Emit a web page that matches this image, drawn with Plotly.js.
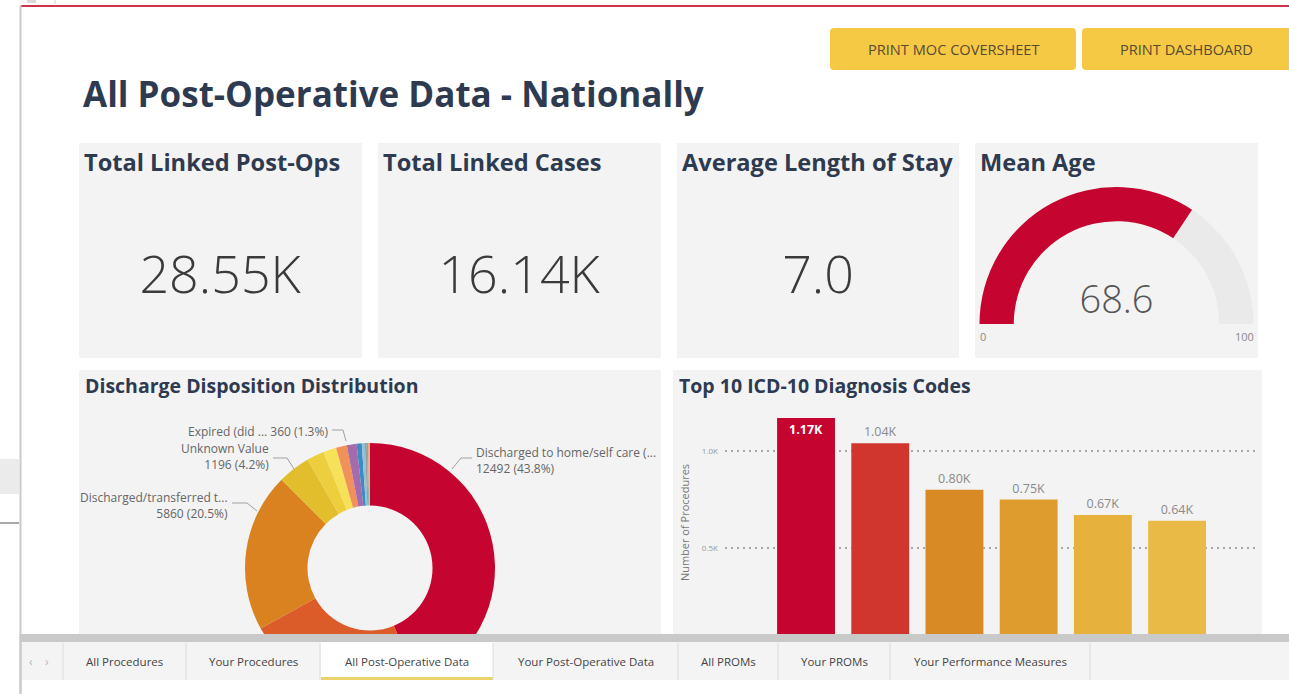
<!DOCTYPE html>
<html>
<head>
<meta charset="utf-8">
<script src="https://cdn.plot.ly/plotly-3.0.1.min.js"></script>
<style>
  html, body { margin: 0; padding: 0; background: #ffffff; }
  #chart { width: 1289px; height: 694px; }
</style>
</head>
<body>
<div id="chart"></div>
<script>
// ---------------- DATA ----------------
const pageTitle = "All Post-Operative Data - Nationally";
const buttonLabels = ["PRINT MOC COVERSHEET", "PRINT DASHBOARD"];

const kpiTitles = ["Total Linked Post-Ops", "Total Linked Cases", "Average Length of Stay"];
const kpiValues = [28.55, 16.14, 7.0];
const kpiSuffixes = ["K", "K", ""];
const kpiFormats = [".2f", ".2f", ".1f"];

const gaugeTitle = "Mean Age";
const gaugeValue = 68.6;
const gaugeRange = [0, 100];

const donutTitle = "Discharge Disposition Distribution";
const dispositionLabels = [
  "Discharged to home/self care (...",
  "Discharged/transferred to home health",
  "Discharged/transferred t...",
  "Unknown Value",
  "Discharged/transferred to inpatient rehab",
  "Discharged/transferred to another hospital",
  "Left against medical advice",
  "Expired (did ...",
  "Discharged/transferred to long term care",
  "Hospice - home",
  "Hospice - medical facility",
  "Discharged/transferred to psychiatric hospital",
  "Other",
  "Still a patient"
];
const dispositionValues = [12492, 6620, 5860, 1196, 650, 480, 400, 360, 190, 110, 70, 50, 40, 30];
const dispositionColors = ["#C5052F", "#DB5B29", "#D9821F", "#E2BD2C", "#EDCF3E", "#F6E158",
  "#F2905A", "#A56BAD", "#3E8BC3", "#8CC3D6", "#9C9C9C", "#6BB5A5", "#E9A07C", "#B0B0B0"];

const barTitle = "Top 10 ICD-10 Diagnosis Codes";
const diagnosisCodes = ["Code 1", "Code 2", "Code 3", "Code 4", "Code 5", "Code 6"];
const procedureCounts = [1170, 1040, 800, 750, 670, 640];
const barColors = ["#C5052F", "#D0352E", "#D88A24", "#DE9B2E", "#E6B23C", "#E9BA45"];
const yTickVals = [500, 1000];
const yTickText = ["0.5K", "1.0K"];
const yAxisTitle = "Number of Procedures";

const tabLabels = ["All Procedures", "Your Procedures", "All Post-Operative Data",
  "Your Post-Operative Data", "All PROMs", "Your PROMs", "Your Performance Measures"];
const activeTab = 2;

// ---------------- LAYOUT HELPERS ----------------
const W = 1289, H = 694;
const px = x => x / W;
const py = y => 1 - y / H;
const FONT = '"Open Sans", "Noto Sans", sans-serif';
const HEAD = "#2E3A50";

const shapes = [];
const annotations = [];
function rect(x0, y0, x1, y1, color, layer) {
  shapes.push({type: "rect", xref: "paper", yref: "paper", x0: px(x0), x1: px(x1), y0: py(y1), y1: py(y0),
    fillcolor: color, line: {width: 0}, layer: layer || "below"});
}
function roundRect(x0, y0, x1, y1, r, color) {
  const X = v => px(v).toFixed(5), Y = v => py(v).toFixed(5);
  const p = `M ${X(x0 + r)},${Y(y0)} L ${X(x1 - r)},${Y(y0)} Q ${X(x1)},${Y(y0)} ${X(x1)},${Y(y0 + r)} ` +
            `L ${X(x1)},${Y(y1 - r)} Q ${X(x1)},${Y(y1)} ${X(x1 - r)},${Y(y1)} L ${X(x0 + r)},${Y(y1)} ` +
            `Q ${X(x0)},${Y(y1)} ${X(x0)},${Y(y1 - r)} L ${X(x0)},${Y(y0 + r)} Q ${X(x0)},${Y(y0)} ${X(x0 + r)},${Y(y0)} Z`;
  shapes.push({type: "path", xref: "paper", yref: "paper", path: p, fillcolor: color, line: {width: 0}, layer: "below"});
}
function line(pts, color, width, layer) {
  const p = pts.map((q, i) => (i ? "L " : "M ") + px(q[0]).toFixed(5) + "," + py(q[1]).toFixed(5)).join(" ");
  shapes.push({type: "path", xref: "paper", yref: "paper", path: p, line: {color: color, width: width || 1}, layer: layer || "below"});
}
function text(x, y, t, opts) {
  opts = opts || {};
  annotations.push({xref: "paper", yref: "paper", x: px(x), y: py(y), text: t, showarrow: false,
    xanchor: opts.xanchor || "left", yanchor: opts.yanchor || "middle", align: opts.align || "left",
    textangle: opts.angle || 0,
    font: {family: opts.family || FONT, size: opts.size || 12, color: opts.color || "#444", weight: opts.weight || "normal"}});
}

// ---------------- PAGE CHROME ----------------
rect(27, 0, 36, 3, "#DADADA");
line([[55, 0], [55, 4]], "#CFCFCF", 1);
line([[20, 6], [1289, 6]], "#CE3348", 2);
line([[20.5, 5], [20.5, 694]], "#C9C9C9", 2);
rect(0, 459, 19, 494, "#EBEBEB");
line([[0, 523], [19, 523]], "#A9A9A9", 2);

// buttons
roundRect(830, 28, 1076, 70, 4, "#F6C944");
roundRect(1082, 28, 1294, 70, 4, "#F6C944");
text(954, 49, buttonLabels[0], {xanchor: "center", size: 14.6, color: "#564B33"});
text(1186, 49, buttonLabels[1], {xanchor: "center", size: 14.6, color: "#564B33"});

// page title
text(81, 93, pageTitle, {size: 35, color: HEAD, weight: "bold"});

// cards
const cardX = [[79, 362], [378, 661], [677, 959], [975, 1258]];
cardX.forEach(c => rect(c[0], 143, c[1], 358, "#F3F3F3"));
kpiTitles.concat([gaugeTitle]).forEach((t, i) => text(cardX[i][0] + 3, 162, t, {size: 23.6, color: HEAD, weight: "bold"}));

// lower panels
rect(79, 370, 661, 640, "#F3F3F3");
rect(673, 370, 1262, 640, "#F3F3F3");
text(83, 385, donutTitle, {size: 19.5, color: HEAD, weight: "bold"});
text(677, 385, barTitle, {size: 19.5, color: HEAD, weight: "bold"});

// gauge end labels
text(983, 336, String(gaugeRange[0]), {xanchor: "center", size: 11, color: "#8A8A8A"});
text(1244, 336, String(gaugeRange[1]), {xanchor: "center", size: 11, color: "#8A8A8A"});

// ---------------- DONUT LABELS ----------------
const total = dispositionValues.reduce((a, b) => a + b, 0);
const pct = i => (dispositionValues[i] / total * 100).toFixed(1) + "%";
const LBL = "#666";
text(474, 460, dispositionLabels[0] + "<br>" + dispositionValues[0] + " (" + pct(0) + ")", {size: 12, color: LBL});
line([[472, 458], [461, 458], [452, 469]], "#A0A0A0", 1);
text(230, 505, dispositionLabels[2] + "<br>" + dispositionValues[2] + " (" + pct(2) + ")", {size: 12, color: LBL, xanchor: "right", align: "right"});
line([[232, 503], [247, 503], [257, 511]], "#A0A0A0", 1);
text(271, 456, dispositionLabels[3] + "<br>" + dispositionValues[3] + " (" + pct(3) + ")", {size: 12, color: LBL, xanchor: "right", align: "right"});
line([[273, 458], [287, 458], [294, 469]], "#A0A0A0", 1);
text(330, 431, dispositionLabels[7] + " " + dispositionValues[7] + " (" + pct(7) + ")", {size: 12, color: LBL, xanchor: "right", align: "right"});
line([[332, 430], [343, 430], [346, 441]], "#A0A0A0", 1);

// ---------------- TAB BAR (above traces) ----------------
rect(20, 634, 1289, 642, "#C9C9C9", "above");
rect(22, 642, 1289, 680, "#F4F4F4", "above");
rect(22, 680, 1289, 694, "#FFFFFF", "above");
line([[20.5, 634], [20.5, 694]], "#C9C9C9", 2, "above");
const tabEdges = [63, 186, 320, 493, 678, 778, 890, 1090];
rect(tabEdges[activeTab] + 1, 642, tabEdges[activeTab + 1], 680, "#FFFFFF", "above");
rect(tabEdges[activeTab] + 1, 677, tabEdges[activeTab + 1], 680, "#EBD36A", "above");
tabEdges.forEach(e => line([[e, 643], [e, 680]], "#DCDCDC", 1, "above"));
tabLabels.forEach((t, i) => text((tabEdges[i] + tabEdges[i + 1]) / 2, 661, t, {xanchor: "center", size: 11.5, color: "#444"}));
text(31, 661, "‹", {xanchor: "center", size: 12, color: "#B5B5B5"});
text(47, 661, "›", {xanchor: "center", size: 12, color: "#B5B5B5"});

// ---------------- TRACES ----------------
const traces = [];
kpiValues.forEach((v, i) => {
  traces.push({
    type: "indicator", mode: "number", value: v,
    number: {valueformat: kpiFormats[i], suffix: kpiSuffixes[i],
      font: {family: FONT, size: 52, color: "#3A3A3A", weight: 300}},
    domain: {x: [px(cardX[i][0]), px(cardX[i][1])], y: [py(309), py(235)]}
  });
});

traces.push({
  type: "indicator", mode: "gauge+number", value: gaugeValue,
  number: {valueformat: ".1f", font: {family: FONT, size: 38, color: "#555", weight: 300}},
  gauge: {
    shape: "angular",
    axis: {range: gaugeRange, visible: false},
    bar: {color: "#C5052F", thickness: 1},
    bgcolor: "#EAEAEA", borderwidth: 0
  },
  domain: {x: [px(979.5), px(1253.5)], y: [py(324), py(187)]}
});

traces.push({
  type: "pie", labels: dispositionLabels, values: dispositionValues,
  marker: {colors: dispositionColors, line: {width: 0}},
  hole: 0.5, sort: false, direction: "clockwise", rotation: 0,
  textinfo: "none", hoverinfo: "label+value+percent",
  domain: {x: [px(245), px(495)], y: [py(693), py(443)]}
});

const barText = procedureCounts.map(v => (v / 1000).toFixed(2) + "K");
traces.push({
  type: "bar", x: diagnosisCodes, y: procedureCounts,
  marker: {color: barColors, line: {width: 0}},
  text: barText,
  textposition: procedureCounts.map((v, i) => i === 0 ? "inside" : "outside"),
  insidetextanchor: "end",
  insidetextfont: {family: FONT, size: 12.5, color: "#FFFFFF", weight: "bold"},
  outsidetextfont: {family: FONT, size: 12.5, color: "#8A8A8A"},
  textangle: 0, cliponaxis: false,
  xaxis: "x", yaxis: "y"
});

const layout = {
  width: W, height: H,
  margin: {l: 0, r: 0, t: 0, b: 0},
  paper_bgcolor: "#FFFFFF", plot_bgcolor: "rgba(0,0,0,0)",
  showlegend: false,
  font: {family: FONT},
  bargap: 0.22,
  xaxis: {domain: [px(725), px(1255)], type: "category", range: [-1.092, 6.05],
    showticklabels: false, showgrid: false, zeroline: false, showline: false, ticks: "", fixedrange: true},
  yaxis: {domain: [py(645), py(400)], range: [0, 1263], tickvals: yTickVals, ticktext: yTickText,
    tickfont: {family: FONT, size: 8, color: "#999"}, ticks: "", ticklabelstandoff: 6,
    showgrid: true, gridcolor: "#A8A8A8", gridwidth: 1.2, griddash: "1.5px,4.5px",
    zeroline: false, showline: false, fixedrange: true,
    title: {text: yAxisTitle, font: {family: FONT, size: 11, color: "#777"}, standoff: 9}},
  shapes: shapes,
  annotations: annotations
};

Plotly.newPlot("chart", traces, layout, {displayModeBar: false, staticPlot: true});
</script>
</body>
</html>
